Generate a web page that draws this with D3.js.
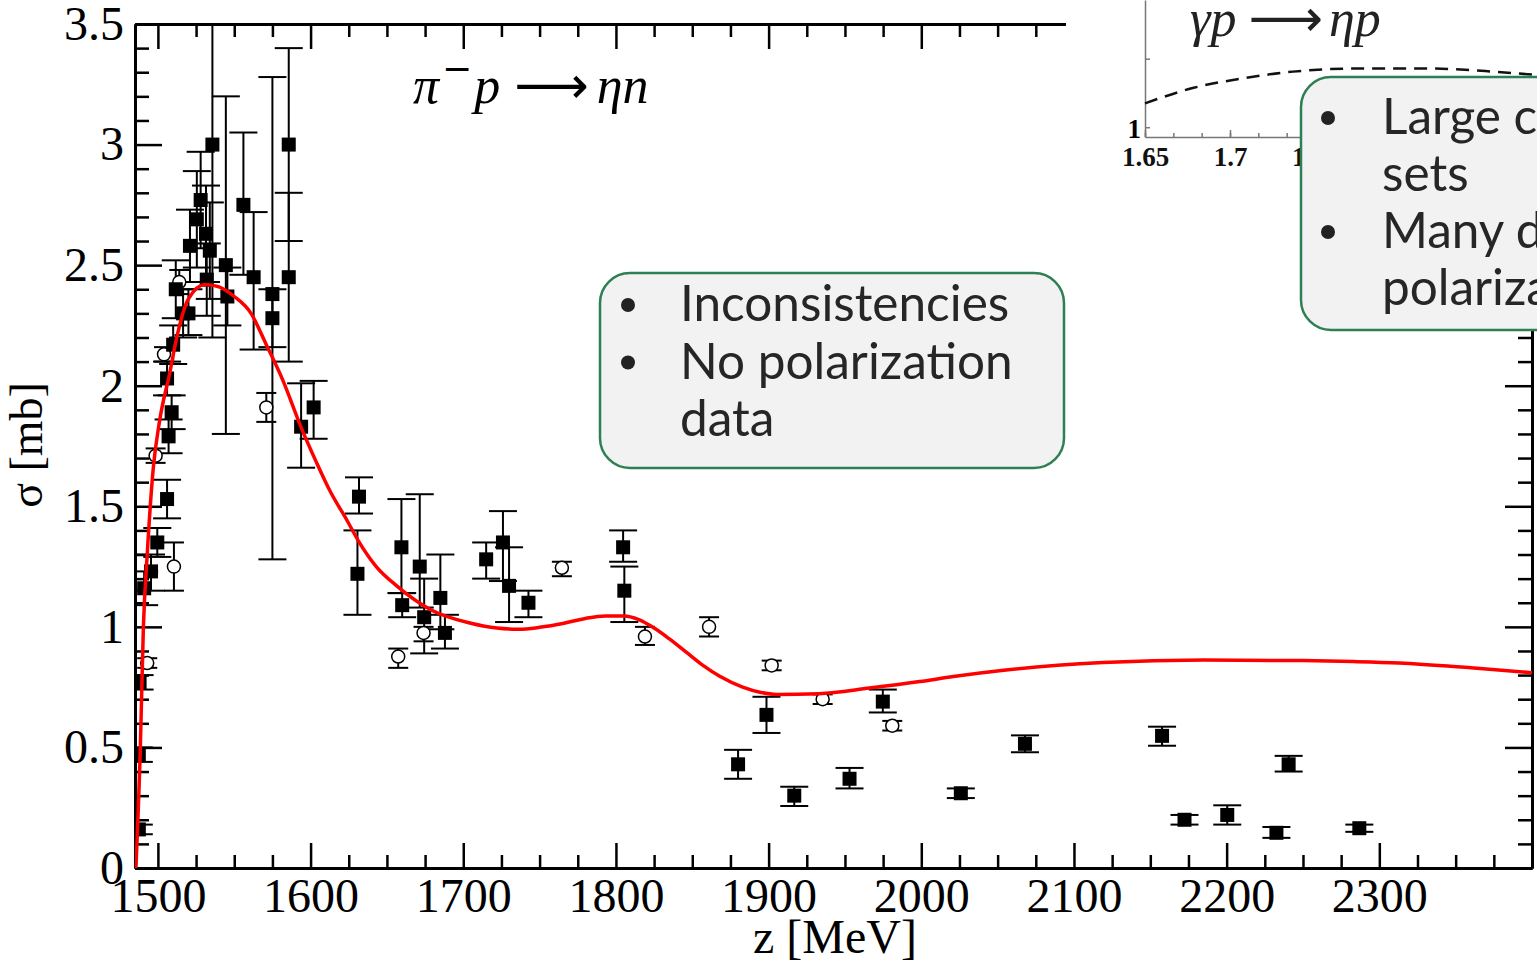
<!DOCTYPE html>
<html>
<head>
<meta charset="utf-8">
<script src="https://cdn.jsdelivr.net/npm/d3@7"></script>
<style>
  body { margin: 0; background: #fff; }
  svg { display: block; }
</style>
</head>
<body>
<svg id="chart" width="1537" height="966"></svg>
<script>
// filled squares: [z (MeV), sigma (mb), lower, upper]
const squarePts = [
  [1487.5, 0.16, 0.14, 0.18], [1487.5, 0.47, 0.44, 0.50], [1488, 0.77, 0.74, 0.80],
  [1491, 1.16, 1.09, 1.23], [1495.5, 1.23, 1.15, 1.30], [1499.6, 1.35, 1.29, 1.41],
  [1506, 1.53, 1.45, 1.61], [1507, 1.79, 1.72, 1.86], [1509, 1.89, 1.82, 1.96],
  [1506, 2.03, 1.96, 2.10], [1510, 2.17, 2.09, 2.25], [1516.5, 2.30, 2.20, 2.40],
  [1520, 2.30, 2.21, 2.40], [1511.7, 2.40, 2.28, 2.52], [1521, 2.58, 2.43, 2.73],
  [1525.5, 2.69, 2.49, 2.89], [1528, 2.77, 2.57, 2.97], [1531.5, 2.63, 2.43, 2.83],
  [1534, 2.56, 2.36, 2.76], [1532, 2.44, 2.29, 2.59], [1535.7, 3.00, 2.20, 3.90],
  [1544.5, 2.50, 1.80, 3.20], [1545.5, 2.37, 2.25, 2.49], [1556, 2.75, 2.46, 3.05],
  [1562.7, 2.45, 2.15, 2.72], [1575, 2.38, 1.28, 3.28], [1575, 2.28, 2.16, 2.40],
  [1585.7, 3.00, 2.60, 3.40], [1585.7, 2.45, 2.10, 2.80], [1593.8, 1.83, 1.66, 2.01],
  [1602, 1.91, 1.78, 2.02], [1631.7, 1.54, 1.47, 1.62], [1630.7, 1.22, 1.05, 1.40],
  [1659.5, 1.33, 1.14, 1.53], [1660, 1.09, 1.04, 1.14], [1671.5, 1.25, 1.08, 1.55],
  [1674.4, 1.04, 0.89, 1.20], [1685, 1.12, 0.99, 1.30], [1688, 0.975, 0.91, 1.05],
  [1715, 1.28, 1.20, 1.35], [1726, 1.35, 1.19, 1.48], [1730, 1.17, 1.02, 1.33],
  [1742.7, 1.10, 1.04, 1.15], [1804.7, 1.33, 1.27, 1.40], [1805.5, 1.15, 1.02, 1.25],
  [1880, 0.43, 0.37, 0.49], [1898.6, 0.635, 0.56, 0.71], [1916.8, 0.30, 0.257, 0.337],
  [1953, 0.37, 0.33, 0.415], [1974.8, 0.69, 0.645, 0.74], [2025.9, 0.31, 0.29, 0.33],
  [2067.9, 0.515, 0.48, 0.55], [2157.7, 0.548, 0.507, 0.586], [2172.4, 0.20, 0.18, 0.22],
  [2200.4, 0.22, 0.18, 0.26], [2232.6, 0.146, 0.125, 0.17], [2240.6, 0.43, 0.40, 0.465],
  [2286.9, 0.165, 0.15, 0.18]
];

// open circles: [z, sigma, lower, upper]
const circlePts = [
  [1493, 0.85, 0.83, 0.87], [1498.5, 1.71, 1.68, 1.74], [1510.5, 1.25, 1.15, 1.35],
  [1504, 2.13, 2.10, 2.16], [1514, 2.43, 2.38, 2.48], [1571, 1.91, 1.85, 1.97],
  [1657.4, 0.877, 0.83, 0.91], [1674, 0.975, 0.94, 1.00], [1764.6, 1.245, 1.21, 1.27],
  [1819, 0.96, 0.925, 1.00], [1861, 1.00, 0.96, 1.04], [1902, 0.84, 0.82, 0.86],
  [1935.4, 0.70, 0.68, 0.72], [1981, 0.59, 0.57, 0.61]
];

// model curve (red)
const modelCurve = [
  [1485.6, 0], [1488.5, 0.5], [1490.5, 1.0], [1493, 1.30], [1497, 1.66], [1501, 1.85],
  [1508, 2.06], [1512, 2.19], [1520, 2.36], [1531, 2.42], [1540, 2.41], [1550, 2.37],
  [1561, 2.30], [1571, 2.17], [1582, 2.02], [1593, 1.84], [1604, 1.68], [1613, 1.56],
  [1624, 1.44], [1631, 1.36], [1643, 1.25], [1657, 1.167], [1679, 1.07], [1705, 1.015],
  [1722, 0.995], [1736, 0.99], [1750, 0.998], [1766, 1.015], [1780, 1.035], [1793, 1.045],
  [1805, 1.045], [1815, 1.03], [1825, 0.995], [1835, 0.95], [1846, 0.895], [1857, 0.84],
  [1868, 0.795], [1883, 0.75], [1895, 0.728], [1905, 0.72], [1933, 0.723], [1966, 0.746],
  [1999, 0.773], [2021, 0.794], [2054, 0.82], [2119, 0.852], [2185, 0.863], [2250, 0.86],
  [2283, 0.856], [2313, 0.85], [2360, 0.83], [2400, 0.81]
];

// inset (gamma p -> eta p), dashed curve
const insetCurve = [
  [1.65, 1.172], [1.678, 1.25], [1.708, 1.30], [1.737, 1.334], [1.776, 1.35],
  [1.816, 1.35], [1.855, 1.334], [1.88, 1.317]
];
const insetTickLabels = ["1.65", "1.7", "1.75"];

const xMajor = [1500, 1600, 1700, 1800, 1900, 2000, 2100, 2200, 2300];
const yMajor = [0, 0.5, 1, 1.5, 2, 2.5, 3, 3.5];

const box1Lines = ["Inconsistencies", "No polarization", "data"];
const box1Bullets = [0, 1];
const box2Lines = ["Large consistent data", "sets", "Many double", "polarization data"];
const box2Bullets = [0, 2];

const svg = d3.select("#chart");
const W = 1537, H = 966;
const mL = 135, mR = 1532, mT = 24, mB = 868;

svg.append("rect").attr("width", W).attr("height", H).attr("fill", "#fff");

const x = d3.scaleLinear().domain([1485, 2400]).range([mL, mR]);
const y = d3.scaleLinear().domain([0, 3.5]).range([mB, mT]);

const xMinor = d3.range(1500, 2400, 25).filter(v => v % 100 !== 0);
const yMinor = d3.range(0.1, 3.5, 0.1).filter(v => Math.abs(v * 2 - Math.round(v * 2)) > 1e-6);

const serif = "'Liberation Serif', 'Times New Roman', serif";
const arrowFont = "'DejaVu Sans', sans-serif";

function styleAxis(g, w) {
  g.selectAll("path").attr("stroke", "#000").attr("stroke-width", 3);
  g.selectAll("line").attr("stroke", "#000").attr("stroke-width", w);
}

// bottom
svg.append("g").attr("transform", `translate(0,${mB})`)
  .call(d3.axisBottom(x).tickValues(xMajor).tickSize(-25).tickSizeOuter(0).tickPadding(10).tickFormat(d3.format("d")))
  .call(g => styleAxis(g, 2.5))
  .call(g => g.selectAll("text").attr("font-family", serif).attr("font-size", 48).attr("fill", "#000"));
svg.append("g").attr("transform", `translate(0,${mB})`)
  .call(d3.axisBottom(x).tickValues(xMinor).tickSize(-13).tickSizeOuter(0).tickFormat(""))
  .call(g => styleAxis(g, 2.5));
// top
svg.append("g").attr("transform", `translate(0,${mT})`)
  .call(d3.axisTop(x).tickValues(xMajor).tickSize(-25).tickSizeOuter(0).tickFormat(""))
  .call(g => styleAxis(g, 2.5));
svg.append("g").attr("transform", `translate(0,${mT})`)
  .call(d3.axisTop(x).tickValues(xMinor).tickSize(-13).tickSizeOuter(0).tickFormat(""))
  .call(g => styleAxis(g, 2.5));
// left
svg.append("g").attr("transform", `translate(${mL},0)`)
  .call(d3.axisLeft(y).tickValues(yMajor).tickSize(-27).tickSizeOuter(0).tickPadding(11).tickFormat(d => String(d)))
  .call(g => styleAxis(g, 2.5))
  .call(g => g.selectAll("text").attr("font-family", serif).attr("font-size", 48).attr("fill", "#000"));
svg.append("g").attr("transform", `translate(${mL},0)`)
  .call(d3.axisLeft(y).tickValues(yMinor).tickSize(-14).tickSizeOuter(0).tickFormat(""))
  .call(g => styleAxis(g, 2.5));
// right
svg.append("g").attr("transform", `translate(${mR},0)`)
  .call(d3.axisRight(y).tickValues(yMajor).tickSize(-27).tickSizeOuter(0).tickFormat(""))
  .call(g => styleAxis(g, 2.5));
svg.append("g").attr("transform", `translate(${mR},0)`)
  .call(d3.axisRight(y).tickValues(yMinor).tickSize(-14).tickSizeOuter(0).tickFormat(""))
  .call(g => styleAxis(g, 2.5));

// axis titles
svg.append("text").attr("x", 835).attr("y", 953).attr("text-anchor", "middle")
  .attr("font-family", serif).attr("font-size", 48).text("z [MeV]");
svg.append("text").attr("transform", "translate(42,445) rotate(-90)").attr("text-anchor", "middle")
  .attr("font-family", serif).attr("font-size", 46).text("σ [mb]");

// reaction label
const lab = svg.append("text").attr("x", 413).attr("y", 103)
  .attr("font-family", serif).attr("font-size", 52).attr("font-style", "italic");
lab.append("tspan").text("π");
lab.append("tspan").attr("dx", 3).attr("dy", -22).attr("font-size", 36)
  .attr("font-family", arrowFont).attr("font-style", "normal").text("−");
lab.append("tspan").attr("dx", 2).attr("dy", 22).text("p");
lab.append("tspan").attr("font-family", arrowFont).attr("font-style", "normal").attr("dx", 14).text("⟶");
lab.append("tspan").attr("dx", 8).text("ηn");

// clip for plot marks
svg.append("clipPath").attr("id", "plotclip").append("rect")
  .attr("x", mL).attr("y", mT).attr("width", mR - mL).attr("height", mB - mT);
const plot = svg.append("g").attr("clip-path", "url(#plotclip)");

function errorBars(data, cap) {
  const g = plot.append("g").attr("stroke", "#000").attr("stroke-width", 2);
  g.selectAll("line.v").data(data).join("line").attr("class", "v")
    .attr("x1", d => x(d[0])).attr("x2", d => x(d[0]))
    .attr("y1", d => y(d[2])).attr("y2", d => y(d[3]));
  g.selectAll("line.lo").data(data).join("line").attr("class", "lo")
    .attr("x1", d => x(d[0]) - cap / 2).attr("x2", d => x(d[0]) + cap / 2)
    .attr("y1", d => y(d[2])).attr("y2", d => y(d[2]));
  g.selectAll("line.hi").data(data).join("line").attr("class", "hi")
    .attr("x1", d => x(d[0]) - cap / 2).attr("x2", d => x(d[0]) + cap / 2)
    .attr("y1", d => y(d[3])).attr("y2", d => y(d[3]));
}
errorBars(circlePts, 20);
errorBars(squarePts, 28);

plot.append("g").selectAll("circle").data(circlePts).join("circle")
  .attr("cx", d => x(d[0])).attr("cy", d => y(d[1])).attr("r", 6.5)
  .attr("fill", "#fff").attr("stroke", "#000").attr("stroke-width", 1.5);

plot.append("g").selectAll("rect").data(squarePts).join("rect")
  .attr("x", d => x(d[0]) - 7).attr("y", d => y(d[1]) - 7).attr("width", 14).attr("height", 14)
  .attr("fill", "#000");

plot.append("path").datum(modelCurve)
  .attr("fill", "none").attr("stroke", "#f00").attr("stroke-width", 3.5)
  .attr("d", d3.line().x(d => x(d[0])).y(d => y(d[1])).curve(d3.curveMonotoneX));

// inset
svg.append("rect").attr("x", 1066).attr("y", 0).attr("width", W - 1066).attr("height", 172).attr("fill", "#fff");
const ix = d3.scaleLinear().domain([1.65, 1.88]).range([1145, 1536]);
const iy = d3.scaleLinear().domain([1, 1.7]).range([137, 0]);
const inset = svg.append("g");
inset.append("g").attr("transform", "translate(0,137)")
  .call(d3.axisBottom(ix).tickValues(d3.range(1.65, 1.88, 0.05 / 3)).tickSize(-4).tickSizeOuter(0).tickFormat(""))
  .call(g => { g.selectAll("path,line").attr("stroke", "#777").attr("stroke-width", 1.5); });
inset.append("g").attr("transform", "translate(0,137)")
  .call(d3.axisBottom(ix).tickValues([1.65, 1.7, 1.75]).tickSize(-7).tickSizeOuter(0).tickPadding(10)
    .tickFormat((d, i) => insetTickLabels[i]))
  .call(g => { g.selectAll("path,line").attr("stroke", "#777").attr("stroke-width", 1.5); g.select("path").remove(); })
  .call(g => g.selectAll("text").attr("font-family", serif).attr("font-weight", "bold").attr("font-size", 27).attr("fill", "#111"));
inset.append("g").attr("transform", "translate(1145,0)")
  .call(d3.axisLeft(iy).tickValues([1.05, 1.4]).tickSize(-5).tickSizeOuter(0).tickFormat(""))
  .call(g => { g.selectAll("path,line").attr("stroke", "#777").attr("stroke-width", 1.5); });
inset.append("text").attr("x", 1141).attr("y", 138).attr("text-anchor", "end")
  .attr("font-family", serif).attr("font-weight", "bold").attr("font-size", 27).text("1");
inset.append("path").datum(insetCurve)
  .attr("fill", "none").attr("stroke", "#111").attr("stroke-width", 2.5).attr("stroke-dasharray", "13,8")
  .attr("d", d3.line().x(d => ix(d[0])).y(d => iy(d[1])).curve(d3.curveMonotoneX));
const ilab = inset.append("text").attr("x", 1190).attr("y", 36)
  .attr("font-family", serif).attr("font-size", 52).attr("font-style", "italic").attr("fill", "#222");
ilab.append("tspan").text("γp");
ilab.append("tspan").attr("font-family", arrowFont).attr("font-style", "normal").attr("dx", 12).text("⟶");
ilab.append("tspan").attr("dx", 6).text("ηp");

// note boxes
const sans = "Lato, 'Noto Sans', sans-serif";
function noteBox(bx, by, bw, bh, lines, bullets, baseline0, lineGap, bulletX, textX) {
  const g = svg.append("g");
  g.append("rect").attr("x", bx).attr("y", by).attr("width", bw).attr("height", bh)
    .attr("rx", 30).attr("ry", 30).attr("fill", "#f2f2f2").attr("stroke", "#2f7f55").attr("stroke-width", 2.5);
  g.selectAll("text.l").data(lines).join("text").attr("class", "l")
    .attr("x", textX).attr("y", (d, i) => baseline0 + i * lineGap)
    .attr("font-family", sans).attr("font-size", 49.5).attr("fill", "#262626").text(d => d);
  g.selectAll("circle.b").data(bullets).join("circle").attr("class", "b")
    .attr("cx", bulletX).attr("cy", i => baseline0 + i * lineGap - 16).attr("r", 7).attr("fill", "#222");
}
noteBox(600, 273, 464, 195, box1Lines, box1Bullets, 321, 57.5, 628, 680);
noteBox(1301, 77, 320, 253, box2Lines, box2Bullets, 134, 57, 1328, 1382);
</script>
</body>
</html>
